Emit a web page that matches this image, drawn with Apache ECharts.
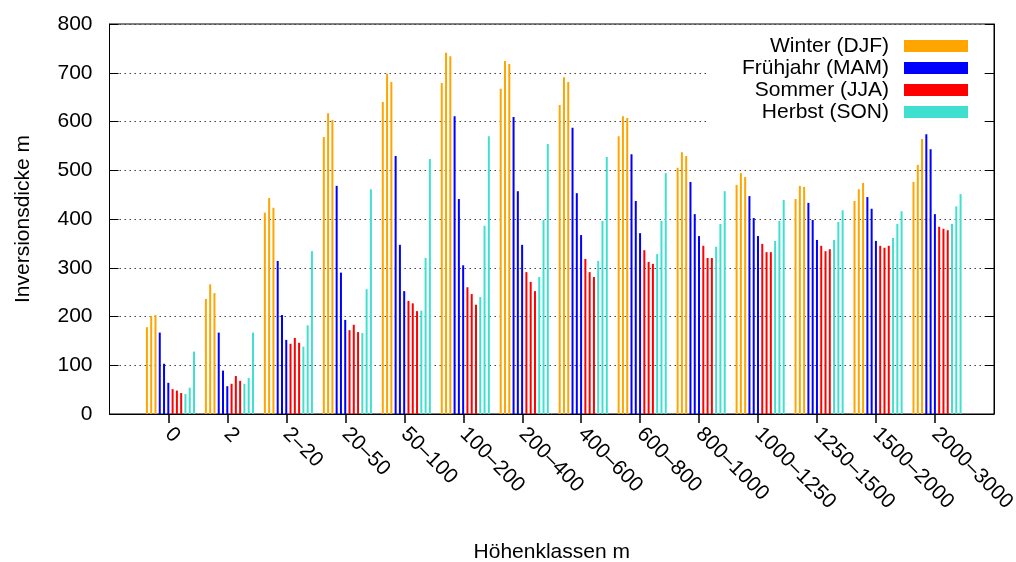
<!DOCTYPE html>
<html>
<head>
<meta charset="utf-8">
<script src="https://cdn.jsdelivr.net/npm/echarts@6/dist/echarts.min.js"></script>
<style>
  html, body { margin: 0; padding: 0; background: #fff; }
  #chart { width: 1016px; height: 562px; }
</style>
</head>
<body>
<div id="chart"></div>
<script>
// Höhenklassen (height classes) on the x axis
const categories = ['0', '2', '2–20', '20–50', '50–100', '100–200', '200–400', '400–600',
  '600–800', '800–1000', '1000–1250', '1250–1500', '1500–2000', '2000–3000'];

// Mean inversion thickness [m] per month, one value per height class
const dez = [178, 236, 413, 568, 640, 679, 667, 634, 570, 505, 470, 441, 437, 476];
const jan = [201, 266, 443, 617, 698, 741, 724, 691, 611, 537, 494, 468, 461, 511];
const feb = [203, 248, 423, 603, 681, 734, 718, 681, 607, 529, 486, 466, 474, 564];
const mar = [167, 167, 314, 468, 529, 611, 609, 587, 533, 476, 447, 433, 445, 574];
const apr = [103, 89, 203, 290, 347, 441, 457, 453, 437, 410, 402, 398, 421, 543];
const mai = [64, 57, 152, 193, 252, 305, 347, 367, 371, 365, 365, 357, 355, 410];
const jun = [51, 62, 144, 172, 232, 260, 291, 318, 336, 345, 349, 345, 345, 384];
const jul = [48, 78, 156, 183, 227, 246, 271, 291, 312, 320, 332, 334, 341, 380];
const aug = [43, 68, 146, 168, 211, 224, 252, 281, 308, 320, 332, 338, 345, 377];
const sep = [41, 62, 138, 166, 212, 240, 281, 314, 328, 343, 355, 357, 361, 390];
const okt = [54, 74, 182, 256, 320, 386, 398, 396, 396, 390, 396, 394, 390, 426];
const nov = [128, 167, 334, 461, 523, 570, 554, 527, 494, 457, 439, 418, 416, 451];

const yTicks = [0, 100, 200, 300, 400, 500, 600, 700, 800];

const seasons = [
  { name: 'Winter (DJF)', color: '#FFA500', months: [dez, jan, feb] },
  { name: 'Frühjahr (MAM)', color: '#0000FF', months: [mar, apr, mai] },
  { name: 'Sommer (JJA)', color: '#FF0000', months: [jun, jul, aug] },
  { name: 'Herbst (SON)', color: '#40E0D0', months: [sep, okt, nov] }
];

// one empty slot on each side so the classes sit one unit inside the frame
const axisCats = [''].concat(categories, ['']);
const pad = arr => [null].concat(arr, [null]);

const FONT = 'Liberation Sans, Arial, Helvetica, sans-serif';
const FS = 21;

const series = [];
seasons.forEach(s => {
  s.months.forEach((m, k) => {
    series.push({
      id: s.name + '-' + k,
      name: s.name,
      type: 'bar',
      xAxisIndex: 1,
      yAxisIndex: 2,
      data: pad(m),
      barWidth: 2,
      barGap: '114%',
      itemStyle: { color: s.color },
      emphasis: { disabled: true },
      animation: false
    });
  });
});

const chart = echarts.init(document.getElementById('chart'), null, { renderer: 'canvas' });
chart.setOption({
  animation: false,
  textStyle: { fontFamily: FONT },
  grid: [
    { left: 109.5, right: 22, top: 24, bottom: 148, show: true, borderColor: '#000', borderWidth: 1,
      containLabel: false, outerBoundsMode: 'none' },
    { left: 111.5, right: 20, top: 24, bottom: 148, containLabel: false, outerBoundsMode: 'none' }
  ],
  legend: {
    data: seasons.map(s => ({ name: s.name, itemStyle: { color: s.color } })),
    orient: 'vertical',
    right: 43,
    top: 30,
    align: 'right',
    icon: 'rect',
    itemWidth: 64,
    itemHeight: 12,
    itemGap: 0,
    selectedMode: false,
    textStyle: { fontFamily: FONT, fontSize: FS, color: '#000', lineHeight: 22, padding: [0, 10, 0, 0] }
  },
  graphic: [{
    type: 'rect',
    z: 1,
    shape: { x: 706, y: 25, width: 276, height: 105 },
    style: { fill: '#fff' }
  }],
  xAxis: [
    {
      gridIndex: 0,
      type: 'category',
      data: axisCats,
      boundaryGap: false,
      axisLine: { lineStyle: { color: '#000', width: 1 } },
      axisTick: {
        show: true, inside: false, length: 9,
        interval: (idx, val) => val !== '',
        lineStyle: { color: '#000', width: 1.5 }
      },
      axisLabel: { interval: 0, rotate: -45, fontSize: FS, color: '#000', margin: 17, fontFamily: FONT },
      splitLine: { show: false },
      name: 'Höhenklassen m',
      nameLocation: 'middle',
      nameGap: 128,
      nameTextStyle: { fontSize: FS, color: '#000', fontFamily: FONT }
    },
    {
      gridIndex: 1,
      type: 'category',
      data: axisCats,
      boundaryGap: false,
      show: false
    }
  ],
  yAxis: [
    {
      gridIndex: 0,
      type: 'value',
      min: yTicks[0],
      max: yTicks[yTicks.length - 1],
      interval: 100,
      axisLine: { show: true, lineStyle: { color: '#000', width: 1 } },
      axisTick: { show: true, inside: true, length: 9, lineStyle: { color: '#000', width: 1 } },
      axisLabel: { fontSize: FS, color: '#000', margin: 17, fontFamily: FONT },
      splitLine: { show: true, lineStyle: { color: '#444', width: 1, type: [1.5, 3.5] } },
      name: 'Inversionsdicke m',
      nameLocation: 'middle',
      nameGap: 76,
      nameRotate: 90,
      nameTextStyle: { fontSize: FS, color: '#000', fontFamily: FONT }
    },
    {
      gridIndex: 0,
      type: 'value',
      position: 'right',
      min: yTicks[0],
      max: yTicks[yTicks.length - 1],
      interval: 100,
      axisLine: { show: true, lineStyle: { color: '#000', width: 1 } },
      axisTick: { show: true, inside: true, length: 9, lineStyle: { color: '#000', width: 1 } },
      axisLabel: { show: false },
      splitLine: { show: false }
    },
    {
      gridIndex: 1,
      type: 'value',
      min: yTicks[0],
      max: yTicks[yTicks.length - 1],
      interval: 100,
      show: false,
      splitLine: { show: false }
    }
  ],
  series: series
});
</script>
</body>
</html>
